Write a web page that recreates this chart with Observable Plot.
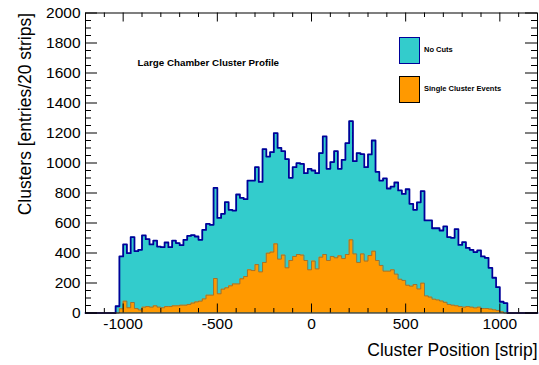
<!DOCTYPE html>
<html>
<head>
<meta charset="utf-8">
<script src="https://cdn.jsdelivr.net/npm/d3@7"></script>
<script src="https://cdn.jsdelivr.net/npm/@observablehq/plot@0.6"></script>
<style>
  html, body { margin: 0; padding: 0; background: #fff; }
  #wrap { position: relative; width: 539px; height: 365px; font-family: "Liberation Sans", Arial, sans-serif; }
  .sw { position: absolute; box-sizing: border-box; }
  .lg { position: absolute; font-size: 7.5px; font-weight: bold; color: #000; white-space: nowrap; line-height: 1; }
</style>
</head>
<body>
<div id="wrap"></div>
<script>
// ---- data (bins of 20 strips, first bin starts at -1040) ----
const binWidth = 20;
const firstBin = -1040;
const xDomain = [-1200, 1200];
const yDomain = [0, 2000];
const noCuts = [
  45, 377, 457, 399, 506, 412, 421, 517, 492, 457,
  483, 443, 439, 470, 439, 483, 466, 452, 488, 514,
  519, 510, 488, 554, 594, 588, 834, 634, 661, 739,
  688, 683, 790, 768, 759, 883, 883, 972, 874, 1092,
  1043, 1072, 1199, 1101, 1079, 1026, 901, 972, 999, 994,
  932, 961, 950, 932, 1066, 1177, 961, 1006, 1079, 961,
  1021, 1132, 1279, 1012, 1066, 1059, 972, 1057, 1150, 941,
  883, 897, 830, 843, 870, 817, 794, 825, 728, 688,
  738, 812, 617, 617, 565, 565, 550, 577, 506, 501,
  559, 454, 472, 434, 421, 406, 417, 377, 368, 301,
  235, 172, 75, 66
];
const singleCluster = [
  0, 28, 79, 35, 70, 30, 20, 39, 43, 39,
  48, 39, 35, 43, 43, 48, 48, 52, 52, 57,
  66, 74, 79, 94, 119, 119, 230, 128, 159, 168,
  181, 194, 194, 228, 243, 288, 283, 323, 274, 337,
  399, 406, 461, 359, 386, 301, 350, 377, 390, 386,
  350, 288, 346, 294, 372, 390, 350, 377, 368, 381,
  363, 390, 488, 394, 337, 394, 346, 383, 412, 350,
  317, 279, 279, 288, 259, 225, 217, 185, 179, 190,
  160, 199, 114, 106, 92, 87, 80, 71, 57, 52,
  48, 43, 39, 43, 39, 34, 39, 30, 30, 26,
  21, 17, 8, 0
];
const xMajorTicks = [-1000, -500, 0, 500, 1000];
const xMinorTicks = [-1100, -900, -800, -700, -600, -400, -300, -200, -100, 100, 200, 300, 400, 600, 700, 800, 900, 1100];
const yMajorTicks = [0, 200, 400, 600, 800, 1000, 1200, 1400, 1600, 1800, 2000];
const yMinorTicks = [50, 100, 150, 250, 300, 350, 450, 500, 550, 650, 700, 750, 850, 900, 950, 1050, 1100, 1150, 1250, 1300, 1350, 1450, 1500, 1550, 1650, 1700, 1750, 1850, 1900, 1950];
const title = "Large Chamber Cluster Profile";
const xLabel = "Cluster Position [strip]";
const yLabel = "Clusters [entries/20 strips]";
const seriesNames = ["No Cuts", "Single Cluster Events"];

// ---- step outlines built from the bins ----
function stepPoints(counts) {
  const pts = [{x: xDomain[0], y: 0}];
  counts.forEach((v, i) => pts.push({x: firstBin + i * binWidth, y: v}));
  pts.push({x: firstBin + counts.length * binWidth, y: 0});
  pts.push({x: xDomain[1], y: 0});
  return pts;
}
const bluePts = stepPoints(noCuts);
const orangePts = stepPoints(singleCluster);

const W = 539, H = 365;
const mL = 85, mR = 2, mT = 12.5, mB = 52.5;
const innerW = W - mL - mR, innerH = H - mT - mB;

const plot = Plot.plot({
  width: W, height: H,
  marginLeft: mL, marginRight: mR, marginTop: mT, marginBottom: mB,
  style: {fontFamily: "'Liberation Sans', Arial, sans-serif", fontSize: "15px", color: "#000", background: "#fff"},
  x: {domain: xDomain, axis: null},
  y: {domain: yDomain, axis: null},
  marks: [
    Plot.areaY(bluePts, {x: "x", y: "y", curve: "step-after", fill: "#33cccc"}),
    Plot.line(bluePts, {x: "x", y: "y", curve: "step-after", stroke: "#000099", strokeWidth: 1.8}),
    Plot.areaY(orangePts, {x: "x", y: "y", curve: "step-after", fill: "#ff9900"}),
    Plot.line(orangePts, {x: "x", y: "y", curve: "step-after", stroke: "#8a6a3a", strokeWidth: 0.8}),
    // inward ROOT-style ticks
    Plot.tickX(xMajorTicks, {x: d => d, insetTop: innerH - 9, stroke: "#000"}),
    Plot.tickX(xMinorTicks, {x: d => d, insetTop: innerH - 4.5, stroke: "#000"}),
    Plot.tickX(xMajorTicks, {x: d => d, insetBottom: innerH - 9, stroke: "#000"}),
    Plot.tickX(xMinorTicks, {x: d => d, insetBottom: innerH - 4.5, stroke: "#000"}),
    Plot.tickY(yMajorTicks, {y: d => d, insetRight: innerW - 12, stroke: "#000"}),
    Plot.tickY(yMinorTicks, {y: d => d, insetRight: innerW - 6, stroke: "#000"}),
    Plot.tickY(yMajorTicks, {y: d => d, insetLeft: innerW - 12, stroke: "#000"}),
    Plot.tickY(yMinorTicks, {y: d => d, insetLeft: innerW - 6, stroke: "#000"}),
    Plot.frame({stroke: "#000"}),
    Plot.axisX(xMajorTicks, {tickSize: 0, tickPadding: 5, tickFormat: d => String(d), label: null, fontSize: 15.5}),
    Plot.axisY(yMajorTicks, {tickSize: 0, tickPadding: 5, tickFormat: d => String(d), label: null, fontSize: 15.5}),
    Plot.text([xLabel], {frameAnchor: "bottom-right", textAnchor: "end", dy: 42.5, fontSize: 17.5}),
    Plot.text([yLabel], {frameAnchor: "top-left", textAnchor: "end", rotate: -90, dx: -67, dy: 0, fontSize: 17.5}),
    Plot.text([title], {frameAnchor: "top-left", textAnchor: "start", dx: 52, dy: 46.5, fontSize: 9.8, fontWeight: "bold"})
  ]
});

const wrap = document.getElementById("wrap");
wrap.appendChild(plot);

// legend
const legend = [
  {name: seriesNames[0], fill: "#33cccc", stroke: "#000099", top: 37},
  {name: seriesNames[1], fill: "#ff9900", stroke: "#000", top: 76}
];
legend.forEach(l => {
  const s = document.createElement("div");
  s.className = "sw";
  s.style.cssText = `left:399px;top:${l.top}px;width:21px;height:27px;background:${l.fill};border:1.5px solid ${l.stroke};`;
  wrap.appendChild(s);
  const t = document.createElement("div");
  t.className = "lg";
  t.textContent = l.name;
  t.style.left = "424px";
  t.style.top = (l.top + 9) + "px";
  wrap.appendChild(t);
});
</script>
</body>
</html>
